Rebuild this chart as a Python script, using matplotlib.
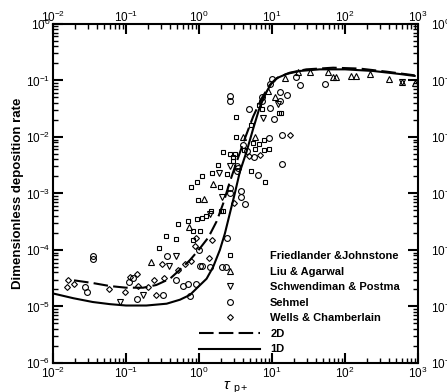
import numpy as np
import matplotlib
matplotlib.use('Agg')
import matplotlib.pyplot as plt
from matplotlib import rcParams
from matplotlib.ticker import LogLocator, FuncFormatter, NullFormatter
from matplotlib.transforms import ScaledTranslation

# Font settings
rcParams['font.family'] = ['Liberation Sans', 'DejaVu Sans']
rcParams['mathtext.fontset'] = 'custom'
rcParams['mathtext.rm'] = 'Liberation Sans'
rcParams['mathtext.it'] = 'Liberation Sans:italic'
rcParams['mathtext.bf'] = 'Liberation Sans:bold'

# --- Experimental data (tau_p+, dimensionless deposition rate) ---
fj_x = [3.23, 3.23, 2.14, 2.64, 3.1, 2.95, 2.9, 1.8, 1.52, 1.09, 0.94, 0.78, 2.4, 0.98,
        0.71, 0.51, 0.94, 1.11, 1.23, 1.44, 1.97, 2.1, 0.82, 1.02, 0.48, 0.35, 0.28,
        5.17, 6.73, 7.2, 12.5, 13.2, 5.52, 5.9, 6.7, 7.7, 7.7, 9.2, 8.1, 5.2, 4.07,
        1.95, 0.83]
fj_y = [0.0222, 0.0101, 0.0055, 0.0050, 0.0050, 0.0044, 0.0037, 0.0032, 0.00226, 0.00204,
        0.00162, 0.00131, 0.0022, 7.8e-4, 3.3e-4, 2.86e-4, 3.6e-4, 3.75e-4, 4.0e-4, 4.9e-4,
        4.9e-4, 4.9e-4, 2.15e-4, 2.15e-4, 1.55e-4, 1.8e-4, 1.1e-4, 0.0164, 0.0367, 0.031,
        0.026, 0.027, 0.0077, 0.0061, 0.0075, 0.0088, 0.0059, 0.0061, 0.0016, 0.00248,
        0.0059, 1.3e-3, 1.5e-4]

la_x = [4.0, 1.17, 0.73, 0.217, 1.55, 8.85, 11.0, 5.9, 15.0, 22.8, 32.9, 58.6, 68.7, 76,
        122, 143, 223, 397, 598, 900]
la_y = [0.0098, 7.9e-4, 2.6e-4, 6.1e-5, 1.46e-3, 0.066, 0.051, 0.0098, 0.109, 0.143,
        0.139, 0.139, 0.117, 0.117, 0.12, 0.12, 0.13, 0.107, 0.095, 0.089]

sp_x = [0.083, 0.169, 0.49, 0.39, 1.41, 1.86, 2.06, 2.63, 7.6, 11.9, 598]
sp_y = [1.2e-5, 1.58e-5, 7.7e-5, 5.2e-5, 4.3e-4, 2.3e-3, 8.6e-4, 3.1e-3, 0.022, 0.038, 0.095]

se_x = [0.035, 0.035, 0.029, 0.027, 0.11, 0.125, 0.14, 0.32, 0.37, 0.49, 0.61, 0.71, 0.75,
        0.91, 1.02, 1.1, 1.41, 2.09, 2.32, 2.45, 2.64, 2.64, 2.64, 2.64, 3.3, 3.4, 3.3,
        3.8, 4.2, 3.78, 4.0, 4.6, 5.6, 6.5, 4.9, 7.2, 7.2, 9.3, 10.5, 12.8, 16.1, 13.5,
        13.9, 9.2, 9.4, 13, 21.2, 24.5, 53.8, 10, 1.0]
se_y = [7.7e-5, 6.8e-5, 1.8e-5, 2.2e-5, 2.7e-5, 3.2e-5, 1.38e-5, 1.6e-5, 7.7e-5, 2.9e-5,
        2.3e-5, 2.5e-5, 1.55e-5, 2.5e-5, 5.2e-5, 5.2e-5, 5.0e-5, 4.9e-5, 4.9e-5, 1.6e-4,
        1.0e-3, 1.26e-3, 0.052, 0.044, 3.1e-3, 2.8e-3, 2.5e-3, 8.7e-4, 6.6e-4, 1.1e-3,
        7.2e-3, 5.7e-3, 4.5e-3, 2.1e-3, 0.031, 0.05, 0.044, 0.032, 0.021, 0.044, 0.056,
        0.011, 3.3e-3, 9.4e-3, 0.085, 0.062, 0.117, 0.083, 0.086, 0.107, 1.0e-4]

wc_x = [0.0162, 0.0154, 0.0194, 0.059, 0.097, 0.115, 0.14, 0.147, 0.2, 0.24, 0.254, 0.33,
        0.31, 0.51, 0.64, 0.78, 0.88, 0.92, 1.36, 1.51, 3.0, 4.87, 6.8, 17.5]
wc_y = [2.9e-5, 2.2e-5, 2.5e-5, 2.05e-5, 1.8e-5, 3.3e-5, 3.7e-5, 2.3e-5, 2.2e-5, 3.0e-5,
        1.6e-5, 3.2e-5, 5.7e-5, 4.5e-5, 5.7e-5, 6.4e-5, 1.17e-4, 1.66e-4, 7.2e-5, 1.5e-4,
        6.9e-4, 4.6e-3, 4.8e-3, 0.011]

# --- Model curves ---
tau_2d = [0.0194, 0.035, 0.06, 0.1, 0.172, 0.26, 0.4, 0.55, 0.75, 1.0, 1.34, 1.74, 2.14,
          2.64, 3.27, 4.25, 5.52, 7.2, 9.3, 12.1, 17.5, 29.5, 68.7, 159, 369, 900]
dep_2d = [2.9e-5, 2.6e-5, 2.3e-5, 2.15e-5, 2.15e-5, 2.4e-5, 3.1e-5, 4.5e-5, 6.6e-5, 1.02e-4,
          1.66e-4, 3.2e-4, 6.6e-4, 1.6e-3, 3.6e-3, 9.4e-3, 0.023, 0.048, 0.083, 0.113,
          0.137, 0.157, 0.168, 0.162, 0.143, 0.123]

tau_1d = [0.01, 0.019, 0.035, 0.06, 0.1, 0.19, 0.36, 0.55, 0.75, 1.0, 1.27, 1.56, 1.93,
          2.26, 2.64, 3.09, 3.62, 4.48, 5.52, 6.8, 8.4, 9.84, 11.5, 15.8, 24, 45, 100,
          242, 560, 900]
dep_1d = [1.7e-5, 1.4e-5, 1.2e-5, 1.1e-5, 1.04e-5, 1.04e-5, 1.12e-5, 1.32e-5, 1.6e-5,
          2.3e-5, 3.1e-5, 5.0e-5, 1.0e-4, 1.95e-4, 4.4e-4, 1e-3, 2.4e-3, 5.5e-3, 0.014,
          0.034, 0.063, 0.089, 0.109, 0.13, 0.147, 0.157, 0.157, 0.147, 0.13, 0.12]

fig = plt.figure(figsize=(4.47, 3.92), dpi=100)
ax = fig.add_axes([0.1186, 0.074, 0.8166, 0.865])

mk = dict(linestyle='none', mfc='none', mec='black', mew=0.8, color='black')
ax.plot(fj_x, fj_y, marker='s', ms=3.4, label='Friedlander &Johnstone', **mk)
ax.plot(la_x, la_y, marker='^', ms=4.0, label='Liu & Agarwal', **mk)
ax.plot(sp_x, sp_y, marker='v', ms=4.0, label='Schwendiman & Postma', **mk)
ax.plot(se_x, se_y, marker='o', ms=4.2, label='Sehmel', **mk)
ax.plot(wc_x, wc_y, marker='D', ms=3.0, label='Wells & Chamberlain', **mk)
ax.plot(tau_2d, dep_2d, color='black', lw=1.5, dashes=(7, 2.5), label='2D')
ax.plot(tau_1d, dep_1d, color='black', lw=1.5, label='1D')

ax.set_xscale('log')
ax.set_yscale('log')
ax.set_xlim(1e-2, 1e3)
ax.set_ylim(1e-6, 1e0)

fmt = FuncFormatter(lambda v, p: r'$10^{%d}$' % int(round(np.log10(v))))
for axis in (ax.xaxis, ax.yaxis):
    axis.set_major_locator(LogLocator(base=10, numticks=20))
    axis.set_minor_locator(LogLocator(base=10, subs=np.arange(2, 10), numticks=20))
    axis.set_major_formatter(fmt)
    axis.set_minor_formatter(NullFormatter())

ax.tick_params(which='both', direction='in', top=True, right=True,
               labeltop=True, labelright=True, labelsize=8.5, pad=2)
ax.tick_params(which='major', length=7, width=1.5)
ax.tick_params(which='minor', length=3.5, width=1)
for s in ax.spines.values():
    s.set_linewidth(1.5)

# right labels sit further out, top labels closer to the frame
for t in ax.yaxis.get_major_ticks():
    t.label2.set_transform(t.label2.get_transform()
                           + ScaledTranslation(7 / 72, 0, fig.dpi_scale_trans))
for t in ax.xaxis.get_major_ticks():
    t.label2.set_transform(t.label2.get_transform()
                           + ScaledTranslation(0, -3 / 72, fig.dpi_scale_trans))

ax.set_xlabel(r'$\tau$ $_{\rm p+}$', fontsize=11, labelpad=-1)
ax.set_ylabel('Dimensionless deposition rate', fontsize=9.5, fontweight='bold', labelpad=1)

ax.legend(loc='upper left', bbox_to_anchor=(0.40, 0.33), frameon=False,
          prop={'weight': 'bold', 'size': 8}, borderpad=0, borderaxespad=0,
          handlelength=5.5, handletextpad=0.9, labelspacing=0.5)

plt.savefig('out.png', dpi=100)
